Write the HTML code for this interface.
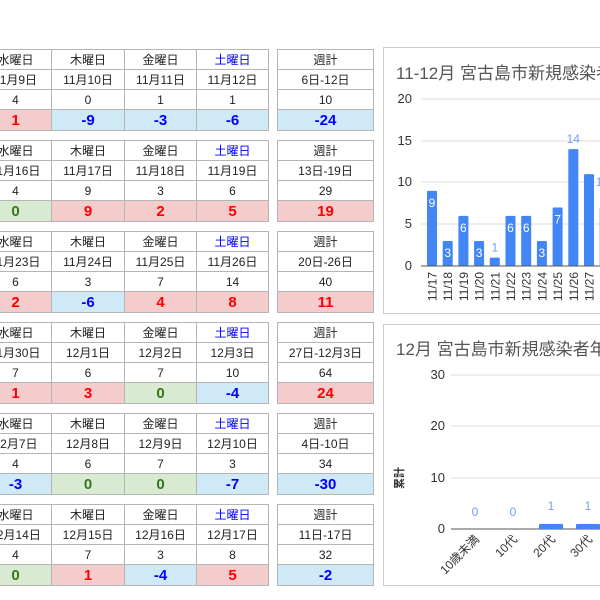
<!DOCTYPE html>
<html><head><meta charset="utf-8">
<style>
body{margin:0;width:600px;height:600px;overflow:hidden;background:#fff;font-family:"Liberation Sans","Noto Sans CJK JP",sans-serif;position:relative}
.c{position:absolute;box-sizing:border-box;border:1px solid #b5b5b5;text-align:center;font-size:12px;color:#222;display:flex;align-items:center;justify-content:center;white-space:nowrap;overflow:hidden}
.d{font-weight:bold;font-size:15px}
.r{background:#f4cccc;color:#f00}.b{background:#cfe9f7;color:#00f}.g{background:#d9ead3;color:#38761d}
.box{position:absolute;border:1px solid #ccc;box-sizing:border-box;background:#fff}
</style></head><body>
<div id="t"></div>
<div class="box" style="left:383px;top:47px;width:230px;height:267px"></div>
<div class="box" style="left:383px;top:324px;width:230px;height:262px"></div>
<svg style="position:absolute;left:0;top:0" width="600" height="600" font-family="Liberation Sans, Noto Sans CJK JP, sans-serif">
<text x="396" y="79" font-size="17" fill="#555">11-12月 宮古島市新規感染者数</text>
<g stroke="#ddd" stroke-width="1">
<line x1="421" x2="600" y1="99" y2="99"/><line x1="421" x2="600" y1="141" y2="141"/><line x1="421" x2="600" y1="182" y2="182"/><line x1="421" x2="600" y1="224" y2="224"/>
</g>
<g font-size="13" fill="#333" text-anchor="end">
<text x="412" y="103">20</text><text x="412" y="145">15</text><text x="412" y="186">10</text><text x="412" y="228">5</text><text x="412" y="270">0</text>
</g>
<g id="bars"></g>
<line x1="421" x2="600" y1="266" y2="266" stroke="#555"/>
<text x="396" y="355" font-size="17" fill="#555">12月 宮古島市新規感染者年代別</text>
<g stroke="#ddd"><line x1="451" x2="600" y1="375" y2="375"/><line x1="451" x2="600" y1="426" y2="426"/><line x1="451" x2="600" y1="478" y2="478"/></g>
<line x1="451" x2="600" y1="529" y2="529" stroke="#555"/>
<g font-size="13" fill="#333" text-anchor="end">
<text x="445" y="379">30</text><text x="445" y="430">20</text><text x="445" y="482">10</text><text x="445" y="533">0</text>
</g>
<text transform="translate(403,478) rotate(-90)" font-size="11" font-weight="bold" fill="#333" text-anchor="middle">累計</text>
<rect x="539" y="524" width="24" height="5" rx="1" fill="#4285f4"/><rect x="576" y="524" width="24" height="5" rx="1" fill="#4285f4"/>
<g font-size="12" fill="#6fa0f5" text-anchor="middle"><text x="475" y="516">0</text><text x="513" y="516">0</text><text x="551" y="510">1</text><text x="588" y="510">1</text></g>
<g font-size="12" fill="#333" text-anchor="end">
<text transform="translate(480,540) rotate(-45)">10歳未満</text>
<text transform="translate(518,540) rotate(-45)">10代</text>
<text transform="translate(556,540) rotate(-45)">20代</text>
<text transform="translate(593,540) rotate(-45)">30代</text>
</g>
</svg>
<script>
var B=[["11月9日","11月10日","11月11日","11月12日","6日-12日"],[4,0,1,1,10],[[1,"r"],[-9,"b"],[-3,"b"],[-6,"b"],[-24,"b"]],
["11月16日","11月17日","11月18日","11月19日","13日-19日"],[4,9,3,6,29],[[0,"g"],[9,"r"],[2,"r"],[5,"r"],[19,"r"]],
["11月23日","11月24日","11月25日","11月26日","20日-26日"],[6,3,7,14,40],[[2,"r"],[-6,"b"],[4,"r"],[8,"r"],[11,"r"]],
["11月30日","12月1日","12月2日","12月3日","27日-12月3日"],[7,6,7,10,64],[[1,"r"],[3,"r"],[0,"g"],[-4,"b"],[24,"r"]],
["12月7日","12月8日","12月9日","12月10日","4日-10日"],[4,6,7,3,34],[[-3,"b"],[0,"g"],[0,"g"],[-7,"b"],[-30,"b"]],
["12月14日","12月15日","12月16日","12月17日","11日-17日"],[4,7,3,8,32],[[0,"g"],[1,"r"],[-4,"b"],[5,"r"],[-2,"b"]]];
var X=[[-21,73],[51,74],[124,73],[196,73],[277,97]],H=["水曜日","木曜日","金曜日","土曜日","週計"],h="";
for(var k=0;k<6;k++){var y=49+k*91;
for(var i=0;i<5;i++){var x=X[i][0],w=X[i][1];
h+='<div class="c" style="left:'+x+'px;top:'+y+'px;width:'+w+'px;height:21px;'+(i==3?'color:#00f':'')+'">'+H[i]+'</div>';
h+='<div class="c" style="left:'+x+'px;top:'+(y+20)+'px;width:'+w+'px;height:21px">'+B[k*3][i]+'</div>';
h+='<div class="c" style="left:'+x+'px;top:'+(y+40)+'px;width:'+w+'px;height:21px">'+B[k*3+1][i]+'</div>';
var d=B[k*3+2][i];
h+='<div class="c d '+d[1]+'" style="left:'+x+'px;top:'+(y+60)+'px;width:'+w+'px;height:22px">'+d[0]+'</div>';}}
document.getElementById("t").innerHTML=h;
var V=[9,3,6,3,1,6,6,3,7,14,11,7],L=["11/17","11/18","11/19","11/20","11/21","11/22","11/23","11/24","11/25","11/26","11/27","11/28"],s="";
for(var i=0;i<12;i++){var cx=432+i*15.7,t=266-V[i]*8.35;
s+='<rect x="'+(cx-5)+'" y="'+t+'" width="10" height="'+(266-t)+'" rx="1" fill="#4285f4"/>';
if(V[i]<=1)s+='<text x="'+cx+'" y="'+(t-6)+'" font-size="12" fill="#6fa0f5" text-anchor="middle">'+V[i]+'</text>';
else if(V[i]==14)s+='<text x="'+cx+'" y="'+(t-6)+'" font-size="12" fill="#6fa0f5" text-anchor="middle">14</text>';
else if(V[i]==11)s+='<text x="'+(cx+13)+'" y="'+(t+12)+'" font-size="12" fill="#6fa0f5" text-anchor="middle">11</text>';
else s+='<text x="'+cx+'" y="'+(t+16)+'" font-size="12" fill="#fff" text-anchor="middle">'+V[i]+'</text>';
s+='<text transform="translate('+(cx+4.5)+',272) rotate(-90)" font-size="12" fill="#333" text-anchor="end">'+L[i]+'</text>';}
document.getElementById("bars").innerHTML=s;
</script>
</body></html>
